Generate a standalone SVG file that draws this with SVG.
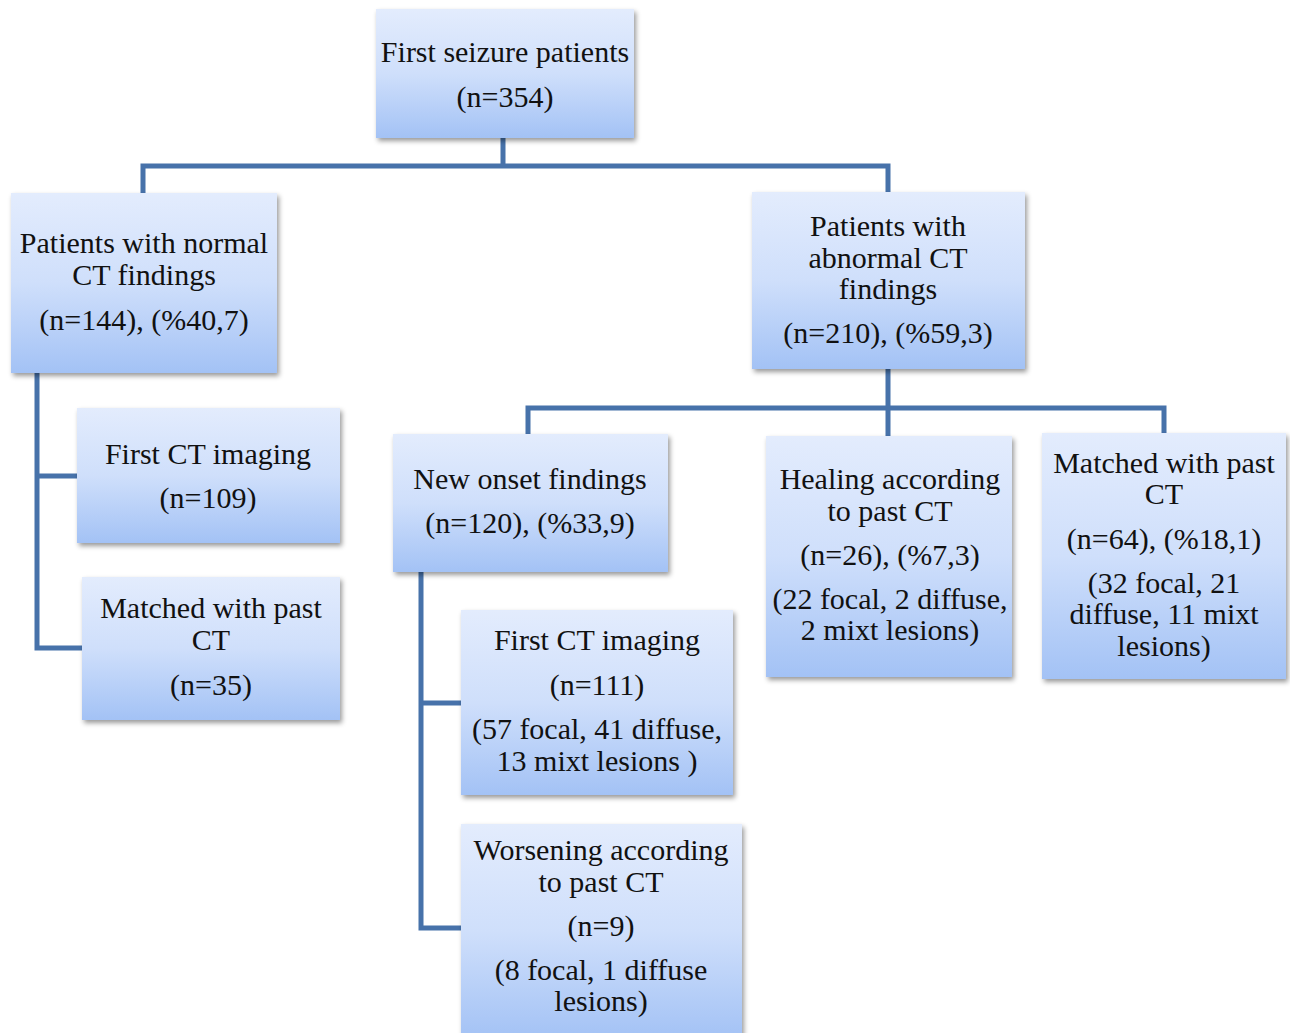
<svg xmlns="http://www.w3.org/2000/svg" width="1290" height="1033" viewBox="0 0 1290 1033">
<defs>
<linearGradient id="g" x1="0" y1="0" x2="0" y2="1">
<stop offset="0" stop-color="#e3ecfd"/>
<stop offset="0.5" stop-color="#cfdffb"/>
<stop offset="1" stop-color="#a3c2f5"/>
</linearGradient>
<filter id="sh" x="-10%" y="-10%" width="125%" height="130%">
<feDropShadow dx="2" dy="3" stdDeviation="2.5" flood-color="#000" flood-opacity="0.4"/>
</filter>
</defs>
<style>
.box{fill:url(#g);filter:url(#sh);}
text{font-family:"Liberation Serif","Times New Roman",serif;font-size:30px;fill:#111;text-anchor:middle;}
.c{fill:none;stroke:#4772aa;stroke-width:5;stroke-linecap:butt;stroke-linejoin:miter;}
</style>
<rect width="1290" height="1033" fill="#fff"/>
<g id="connectors">
<path class="c" d="M503 138 V166 M143 193 V166 H888 V192"/>
<path class="c" d="M37 373 V648 H82 M37 476 H77"/>
<path class="c" d="M888 369 V436 M528 434 V408 H1164 V433"/>
<path class="c" d="M421 572 V928 H461 M421 703 H461"/>
</g>
<g id="n-top">
<rect class="box" x="376" y="9" width="258" height="129"/>
<text x="505" y="62">First seizure patients</text>
<text x="505" y="107">(n=354)</text>
</g>
<g id="n-normal">
<rect class="box" x="11" y="193" width="266" height="180"/>
<text x="144" y="253">Patients with normal</text>
<text x="144" y="285">CT findings</text>
<text x="144" y="330">(n=144), (%40,7)</text>
</g>
<g id="n-abnormal">
<rect class="box" x="752" y="192" width="273" height="177"/>
<text x="888" y="236">Patients with</text>
<text x="888" y="268">abnormal CT</text>
<text x="888" y="299">findings</text>
<text x="888" y="343">(n=210), (%59,3)</text>
</g>
<g id="n-first-ct-left">
<rect class="box" x="77" y="408" width="263" height="135"/>
<text x="208" y="464">First CT imaging</text>
<text x="208" y="508">(n=109)</text>
</g>
<g id="n-matched-left">
<rect class="box" x="82" y="577" width="258" height="143"/>
<text x="211" y="618">Matched with past</text>
<text x="211" y="650">CT</text>
<text x="211" y="695">(n=35)</text>
</g>
<g id="n-new-onset">
<rect class="box" x="393" y="434" width="275" height="138"/>
<text x="530" y="489">New onset findings</text>
<text x="530" y="533">(n=120), (%33,9)</text>
</g>
<g id="n-healing">
<rect class="box" x="766" y="436" width="246" height="241"/>
<text x="890" y="489">Healing according</text>
<text x="890" y="521">to past CT</text>
<text x="890" y="565">(n=26), (%7,3)</text>
<text x="890" y="609">(22 focal, 2 diffuse,</text>
<text x="890" y="640">2 mixt lesions)</text>
</g>
<g id="n-matched-right">
<rect class="box" x="1042" y="433" width="244" height="246"/>
<text x="1164" y="473">Matched with past</text>
<text x="1164" y="504">CT</text>
<text x="1164" y="549">(n=64), (%18,1)</text>
<text x="1164" y="593">(32 focal, 21</text>
<text x="1164" y="624">diffuse, 11 mixt</text>
<text x="1164" y="656">lesions)</text>
</g>
<g id="n-first-ct-mid">
<rect class="box" x="461" y="610" width="272" height="185"/>
<text x="597" y="650">First CT imaging</text>
<text x="597" y="695">(n=111)</text>
<text x="597" y="739">(57 focal, 41 diffuse,</text>
<text x="597" y="771">13 mixt lesions )</text>
</g>
<g id="n-worsening">
<rect class="box" x="461" y="824" width="281" height="215"/>
<text x="601" y="860">Worsening according</text>
<text x="601" y="892">to past CT</text>
<text x="601" y="936">(n=9)</text>
<text x="601" y="980">(8 focal, 1 diffuse</text>
<text x="601" y="1011">lesions)</text>
</g>
</svg>
